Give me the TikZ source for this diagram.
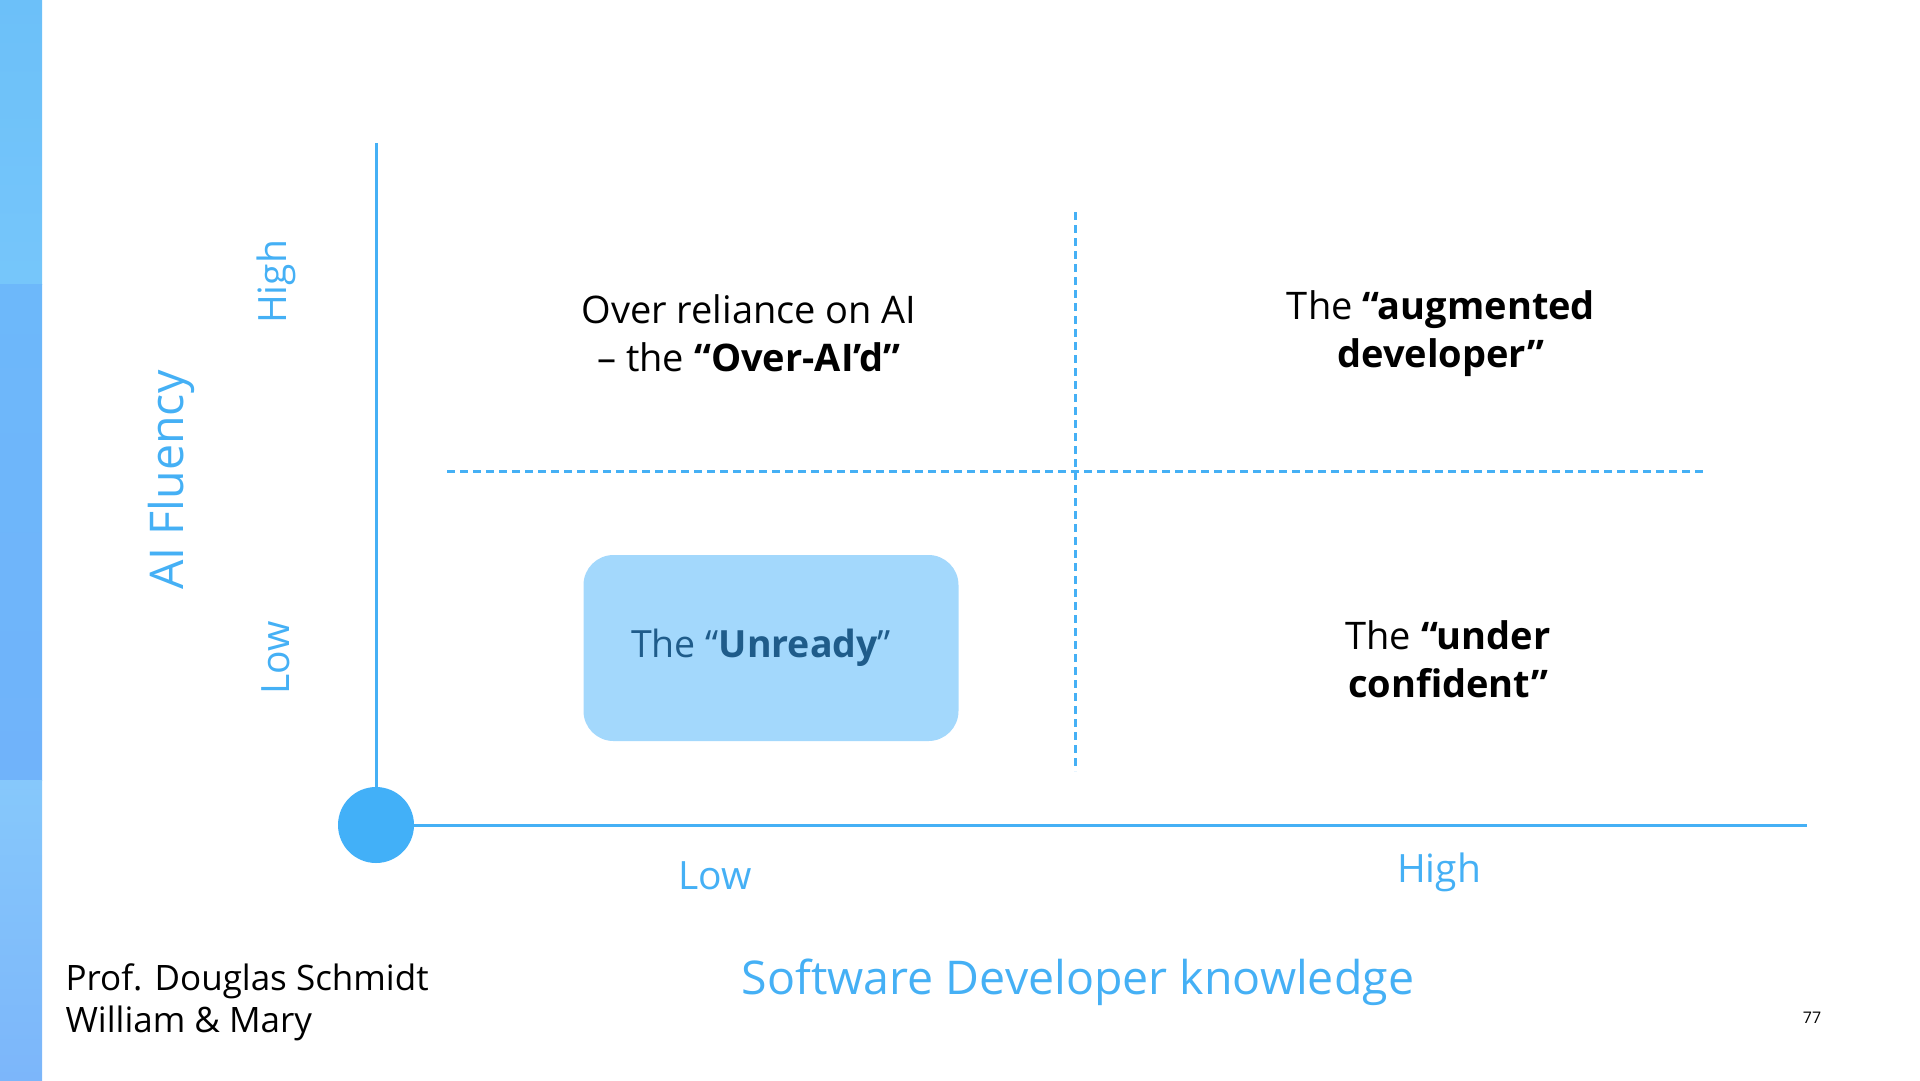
\documentclass[tikz,border=0pt]{standalone}
\usepackage{fontspec}
\setmainfont{Open Sans}
\usetikzlibrary{positioning}
\definecolor{axisblue}{HTML}{45B0F5}
\definecolor{dotblue}{HTML}{42B0F8}
\definecolor{unreadybg}{HTML}{A3D8FC}
\definecolor{unreadytext}{HTML}{1F5C8A}
\definecolor{bartopA}{HTML}{6CC0F9}
\definecolor{bartopB}{HTML}{76C6FA}
\definecolor{barmidA}{HTML}{6DB8FA}
\definecolor{barmidB}{HTML}{70B3FA}
\definecolor{barlowA}{HTML}{86C8FB}
\definecolor{barlowB}{HTML}{7CB6FA}

\begin{document}
\begin{tikzpicture}[
    x=1pt, y=-1pt,
    axisline/.style={axisblue, line width=3pt},
    divider/.style={axisblue, line width=3pt, dash pattern=on 8pt off 5pt},
    quadtext/.style={align=center, text=black,
        font=\fontsize{38}{48}\selectfont},
    ticklabel/.style={text=axisblue, font=\fontsize{39}{44}\selectfont},
    axistitle/.style={text=axisblue, font=\fontsize{46.5}{52}\selectfont},
]
\useasboundingbox (0,0) rectangle (1920,1080);

% =====================================================
% Side bar (left edge)
% =====================================================
\shade[top color=bartopA, bottom color=bartopB] (0,0) rectangle (42,284);
\shade[top color=barmidA, bottom color=barmidB] (0,284) rectangle (42,780);
\shade[top color=barlowA, bottom color=barlowB] (0,780) rectangle (42,1080);

% =====================================================
% Axes
% =====================================================
\node[circle, fill=dotblue, minimum size=76pt, inner sep=0pt]
    (origin) at (376,825) {};
\coordinate (ytop) at (376,143);
\coordinate (xend) at (1807,825);
\draw[axisline] (origin) -- (ytop);
\draw[axisline] (origin) -- (xend);

% --- quadrant dividers ---
\coordinate (vdivtop) at (1075,212);
\coordinate (vdivbot) at (1075,771);
\coordinate (hdivleft) at (447,471);
\coordinate (hdivright) at (1704,471);
\draw[divider] (vdivtop) -- (vdivbot);
\draw[divider] (hdivleft) -- (hdivright);

% =====================================================
% Axis labels
% =====================================================
\node[ticklabel, rotate=90] (yhigh) at (276,282) {High};
\node[ticklabel, rotate=90] (ylow) at (276,658) {Low};
\node[axistitle, rotate=90] (ytitle) at (171,480) {AI Fluency};

\node[ticklabel] (xlow) at (715,876) {Low};
\node[ticklabel] (xhigh) at (1439,872) {High};
\node[axistitle] (xtitle) at (1078,982) {Software Developer knowledge};

% =====================================================
% Quadrants
% =====================================================
\node[quadtext] (overaid) at (749,333)
    {Over reliance on AI\\– the \textbf{“Over-AI’d”}};
\node[quadtext] (augmented) at (1441,334)
    {The \textbf{“augmented}\\\textbf{developer”}};
\node[quadtext] (underconf) at (1448,659)
    {The \textbf{“under}\\\textbf{confident”}};

\node[fill=unreadybg, rounded corners=30pt, minimum width=375pt,
    minimum height=186pt, text=unreadytext,
    font=\fontsize{37.5}{46}\selectfont] (unready) at (771,648)
    {\hspace*{-20pt}The “\textbf{Unready}”};

% =====================================================
% Footer
% =====================================================
\node[anchor=west, align=left, font=\fontsize{35}{42}\selectfont]
    (author) at (62,1002) {Prof. Douglas Schmidt\\William \& Mary};
\node[font=\fontsize{16}{18}\selectfont] (pagenum) at (1812,1018) {77};

\end{tikzpicture}
\end{document}
